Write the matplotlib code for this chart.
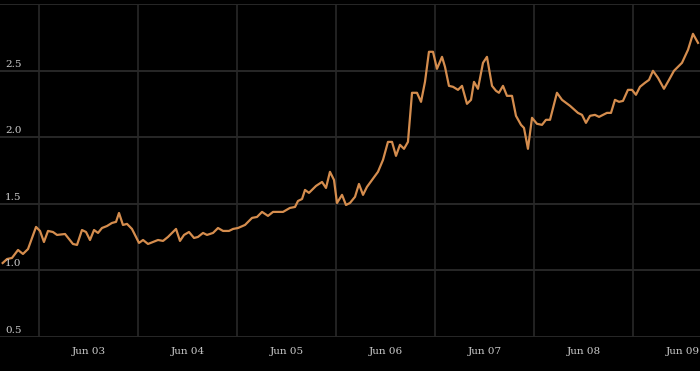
import numpy as np
import matplotlib.pyplot as plt
import matplotlib.transforms as mtransforms

# dates as decimal years
dates = [2002.633, 2002.677, 2002.727, 2002.788, 2002.838, 2002.889, 2002.970, 2003.010,
         2003.050, 2003.091, 2003.141, 2003.182, 2003.263, 2003.343, 2003.384, 2003.434,
         2003.475, 2003.515, 2003.556, 2003.596, 2003.636, 2003.687, 2003.737, 2003.778,
         2003.808, 2003.848, 2003.889, 2003.939, 2003.980, 2004.010, 2004.051, 2004.101,
         2004.152, 2004.202, 2004.253, 2004.303, 2004.384, 2004.424, 2004.465, 2004.515,
         2004.566, 2004.606, 2004.657, 2004.697, 2004.758, 2004.808, 2004.859, 2004.919,
         2004.960, 2005.010, 2005.081, 2005.152, 2005.202, 2005.253, 2005.313, 2005.364,
         2005.465, 2005.535, 2005.586, 2005.616, 2005.657, 2005.687, 2005.727, 2005.798,
         2005.859, 2005.899, 2005.939, 2005.980, 2006.010, 2006.061, 2006.101, 2006.141,
         2006.192, 2006.232, 2006.273, 2006.313, 2006.364, 2006.424, 2006.475, 2006.525,
         2006.566, 2006.606, 2006.646, 2006.687, 2006.727, 2006.768, 2006.818, 2006.859,
         2006.899, 2006.939, 2006.980, 2007.020, 2007.071, 2007.101, 2007.141, 2007.182,
         2007.232, 2007.273, 2007.323, 2007.364, 2007.394, 2007.434, 2007.485, 2007.525,
         2007.576, 2007.616, 2007.646, 2007.687, 2007.727, 2007.778, 2007.818, 2007.869,
         2007.899, 2007.939, 2007.980, 2008.030, 2008.081, 2008.121, 2008.162, 2008.232,
         2008.283, 2008.364, 2008.444, 2008.485, 2008.525, 2008.566, 2008.616, 2008.657,
         2008.737, 2008.778, 2008.818, 2008.859, 2008.899, 2008.949, 2008.990, 2009.030,
         2009.071, 2009.121, 2009.162, 2009.202, 2009.253, 2009.313, 2009.364, 2009.414,
         2009.455, 2009.495, 2009.556, 2009.606, 2009.657]
values = [1.054, 1.084, 1.092, 1.152, 1.122, 1.159, 1.325, 1.295,
          1.212, 1.295, 1.287, 1.265, 1.272, 1.197, 1.190, 1.302,
          1.287, 1.227, 1.302, 1.280, 1.317, 1.332, 1.355, 1.363,
          1.430, 1.340, 1.348, 1.310, 1.250, 1.205, 1.227, 1.197,
          1.212, 1.227, 1.220, 1.250, 1.310, 1.220, 1.265, 1.287,
          1.242, 1.250, 1.280, 1.265, 1.280, 1.317, 1.295, 1.295,
          1.310, 1.317, 1.340, 1.393, 1.400, 1.438, 1.408, 1.438,
          1.438, 1.468, 1.475, 1.520, 1.535, 1.603, 1.581, 1.633,
          1.663, 1.618, 1.739, 1.678, 1.505, 1.566, 1.490, 1.505,
          1.551, 1.648, 1.566, 1.626, 1.678, 1.739, 1.829, 1.964,
          1.964, 1.859, 1.942, 1.912, 1.964, 2.333, 2.333, 2.265,
          2.415, 2.641, 2.641, 2.513, 2.603, 2.528, 2.385, 2.378,
          2.355, 2.385, 2.250, 2.280, 2.415, 2.363, 2.558, 2.603,
          2.385, 2.348, 2.333, 2.385, 2.310, 2.310, 2.160, 2.092,
          2.069, 1.912, 2.145, 2.100, 2.092, 2.130, 2.130, 2.333,
          2.280, 2.235, 2.182, 2.167, 2.107, 2.160, 2.167, 2.152,
          2.182, 2.182, 2.280, 2.265, 2.272, 2.355, 2.355, 2.318,
          2.378, 2.408, 2.430, 2.498, 2.445, 2.363, 2.430, 2.498,
          2.528, 2.558, 2.656, 2.776, 2.708]

year_lines = [2003, 2004, 2005, 2006, 2007, 2008, 2009]
label_pos = [2003.5, 2004.5, 2005.5, 2006.5, 2007.5, 2008.5, 2009.5]
label_text = ["Jun 03", "Jun 04", "Jun 05", "Jun 06", "Jun 07", "Jun 08", "Jun 09"]
y_ticks = [0.5, 1.0, 1.5, 2.0, 2.5, 3.0]

grid_col = "#282828"
text_col = "#cccccc"
font = "DejaVu Serif"

fig = plt.figure(figsize=(7.0, 3.71), dpi=100, facecolor="black")
ax = fig.add_axes([0, 0.0916, 1, 0.8976])
ax.set_facecolor("black")
ax.set_xlim(2002.606, 2009.677)
ax.set_ylim(0.498, 3.0)

for y in y_ticks:
    ax.axhline(y, color=grid_col, lw=1.4, zorder=1)
for x in year_lines:
    ax.axvline(x, color=grid_col, lw=1.2, zorder=1)

ax.plot(dates, values, color="#d58d4e", lw=1.6, zorder=3)

# y labels sit inside the plot, just above their gridline
for y in y_ticks[:-1]:
    ax.annotate(f"{y:.1f}", xy=(0, y), xycoords=("axes fraction", "data"),
                xytext=(5, 2), textcoords="offset pixels", ha="left", va="bottom",
                color=text_col, fontsize=7.5, family=font)

trans = mtransforms.blended_transform_factory(ax.transData, fig.transFigure)
for pos, lab in zip(label_pos, label_text):
    fig.text(pos, (371 - 351) / 371, lab, transform=trans, ha="center", va="center",
             color=text_col, fontsize=7.5, family=font)

for s in ax.spines.values():
    s.set_visible(False)
ax.set_xticks([])
ax.set_yticks([])

fig.savefig("out.png", dpi=100, facecolor="black")
